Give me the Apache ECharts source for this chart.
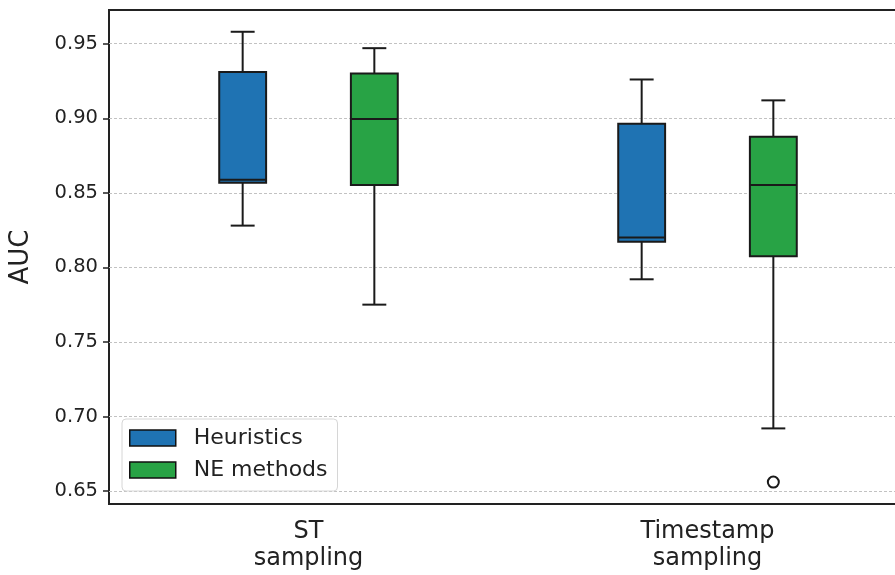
<!DOCTYPE html>
<html>
<head>
<meta charset="utf-8">
<script src="https://cdn.jsdelivr.net/npm/echarts@6/dist/echarts.min.js"></script>
<style>html,body{margin:0;padding:0;background:#fff;}#c{width:895px;height:575px;}</style>
</head>
<body>
<div id="c"></div>
<script>
// ---- data ----
const categories = ['ST\nsampling', 'Timestamp\nsampling'];
// [min, Q1, median, Q3, max] per category
const heuristics = [
  [0.828, 0.8568, 0.8588, 0.931, 0.958],
  [0.792, 0.8172, 0.8201, 0.8963, 0.926]
];
const neMethods = [
  [0.775, 0.8552, 0.8995, 0.930, 0.947],
  [0.692, 0.8074, 0.8552, 0.8876, 0.912]
];
// [categoryIndex, value]
const neOutliers = [[1, 0.656]];
const yTicks = [0.65, 0.70, 0.75, 0.80, 0.85, 0.90, 0.95];

const seriesNames = ['Heuristics', 'NE methods'];
const seriesColors = ['#1f73b3', '#28a345'];

const OFFSET = [-0.165, 0.165];
const BOX_W = 0.1175;
const CAP_W = 0.06;

function boxRenderer(groupIdx) {
  return function (params, api) {
    const cat = api.value(0);
    const band = api.size([1, 0])[0];
    const cx = api.coord([cat, 0])[0] + OFFSET[groupIdx] * band;
    const y = (i) => api.coord([cat, api.value(i)])[1];
    const yMin = y(1), yQ1 = y(2), yMed = y(3), yQ3 = y(4), yMax = y(5);
    const hw = BOX_W * band / 2, cw = CAP_W * band / 2;
    const ls = { stroke: '#1a1a1a', lineWidth: 2 };
    return {
      type: 'group',
      children: [
        { type: 'line', shape: { x1: cx, y1: yQ1, x2: cx, y2: yMin }, style: ls },
        { type: 'line', shape: { x1: cx, y1: yQ3, x2: cx, y2: yMax }, style: ls },
        { type: 'line', shape: { x1: cx - cw, y1: yMin, x2: cx + cw, y2: yMin }, style: ls },
        { type: 'line', shape: { x1: cx - cw, y1: yMax, x2: cx + cw, y2: yMax }, style: ls },
        { type: 'rect', shape: { x: cx - hw, y: yQ3, width: 2 * hw, height: yQ1 - yQ3 },
          style: { fill: seriesColors[groupIdx], stroke: '#1a1a1a', lineWidth: 2 } },
        { type: 'line', shape: { x1: cx - hw, y1: yMed, x2: cx + hw, y2: yMed }, style: ls }
      ]
    };
  };
}

function outlierRenderer(groupIdx) {
  return function (params, api) {
    const cat = api.value(0);
    const band = api.size([1, 0])[0];
    const p = api.coord([cat, api.value(1)]);
    return {
      type: 'circle',
      shape: { cx: p[0] + OFFSET[groupIdx] * band, cy: p[1], r: 5.5 },
      style: { fill: '#fff', stroke: '#1a1a1a', lineWidth: 2 }
    };
  };
}

const chart = echarts.init(document.getElementById('c'), null, { renderer: 'canvas' });
chart.setOption({
  animation: false,
  backgroundColor: '#fff',
  grid: {
    left: 109, top: 10, right: -12, bottom: 71,
    outerBoundsMode: 'none', containLabel: false,
    show: true, borderColor: '#222', borderWidth: 2, backgroundColor: 'transparent'
  },
  legend: {
    orient: 'vertical',
    left: 122, top: 419,
    padding: [8, 10, 10, 7],
    itemWidth: 46, itemHeight: 16, itemGap: 10,
    backgroundColor: 'rgba(255,255,255,0.85)',
    borderColor: '#d6d6d6', borderWidth: 1, borderRadius: 4,
    textStyle: { fontSize: 22, color: '#222', fontFamily: 'DejaVu Sans', padding: [0, 0, 0, 13] },
    data: seriesNames.map((n, i) => ({
      name: n, icon: 'rect',
      itemStyle: { color: seriesColors[i], borderColor: '#111', borderWidth: 1.5 }
    }))
  },
  xAxis: {
    type: 'category',
    data: categories,
    boundaryGap: true,
    axisLine: { show: false },
    axisTick: { show: false },
    splitLine: { show: false },
    axisLabel: {
      fontSize: 24, lineHeight: 27, color: '#222', fontFamily: 'DejaVu Sans', margin: 14
    }
  },
  yAxis: {
    type: 'value',
    min: 0.6413, max: 0.9726,
    name: 'AUC', nameLocation: 'middle', nameGap: 75, nameRotate: 90,
    nameTextStyle: { fontSize: 26, color: '#222', fontFamily: 'DejaVu Sans' },
    axisLine: { show: false },
    axisTick: { show: true, length: 6, inside: false, customValues: yTicks,
      lineStyle: { color: '#222', width: 1.5 } },
    axisLabel: {
      customValues: yTicks, fontSize: 19.5, color: '#222', fontFamily: 'DejaVu Sans', margin: 11,
      formatter: (v) => v.toFixed(2)
    },
    splitLine: { show: true, lineStyle: { color: '#c2c2c2', type: [3, 2], width: 1 } }
  },
  series: [
    {
      name: seriesNames[0], type: 'custom', z: 3,
      itemStyle: { color: seriesColors[0] },
      renderItem: boxRenderer(0),
      encode: { x: 0, y: [1, 2, 3, 4, 5] },
      data: heuristics.map((d, i) => [i].concat(d))
    },
    {
      name: seriesNames[1], type: 'custom', z: 3,
      itemStyle: { color: seriesColors[1] },
      renderItem: boxRenderer(1),
      encode: { x: 0, y: [1, 2, 3, 4, 5] },
      data: neMethods.map((d, i) => [i].concat(d))
    },
    {
      name: 'NE outliers', type: 'custom', z: 3,
      renderItem: outlierRenderer(1),
      encode: { x: 0, y: 1 },
      data: neOutliers
    }
  ]
});
</script>
</body>
</html>
